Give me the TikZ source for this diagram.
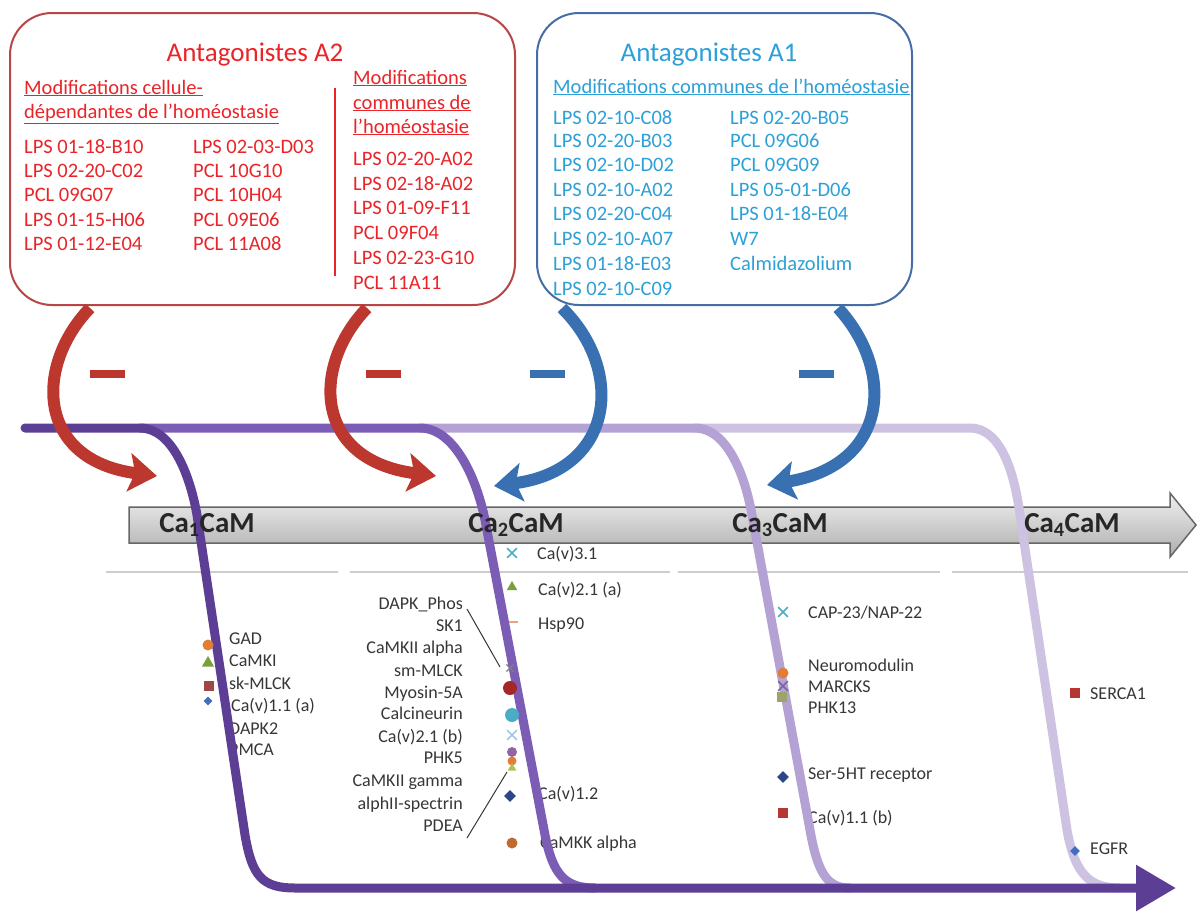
\documentclass[tikz,border=0pt]{standalone}
\usepackage{fontspec}
\setmainfont{Carlito}
\usetikzlibrary{arrows.meta,shapes.geometric,shapes.misc}
\definecolor{a2red}{RGB}{234,36,40}
\definecolor{a2box}{RGB}{185,70,70}
\definecolor{a1blue}{RGB}{45,160,215}
\definecolor{a1box}{RGB}{70,110,165}
\definecolor{arrred}{RGB}{188,56,46}
\definecolor{arrblue}{RGB}{56,112,178}
\definecolor{pA}{RGB}{92,63,148}
\definecolor{pB}{RGB}{124,93,182}
\definecolor{pC}{RGB}{180,162,212}
\definecolor{pD}{RGB}{205,194,226}
\definecolor{lbl}{RGB}{55,55,55}
\definecolor{gline}{RGB}{205,205,205}
\definecolor{mOrange}{RGB}{225,125,55}
\definecolor{mGreen}{RGB}{120,160,60}
\definecolor{mBrown}{RGB}{160,70,70}
\definecolor{mNavy}{RGB}{45,70,135}
\definecolor{mCyan}{RGB}{75,172,198}
\definecolor{mRed}{RGB}{180,55,50}
\definecolor{mDarkRed}{RGB}{165,40,40}
\definecolor{mMauve}{RGB}{150,100,160}
\definecolor{mOlive}{RGB}{155,165,105}
\definecolor{mPurple}{RGB}{128,100,162}
\definecolor{mLtBlue}{RGB}{160,200,230}
\definecolor{mYG}{RGB}{170,195,90}
\definecolor{mBlue}{RGB}{65,110,190}
\definecolor{mPeach}{RGB}{240,160,130}
\tikzset{
  boxframe/.style={draw, line width=2pt, rounded corners=42pt, inner sep=0pt},
  txtA/.style={anchor=base west, inner sep=0pt, text=a2red, font=\fontsize{20.5}{24}\selectfont},
  txtB/.style={anchor=base west, inner sep=0pt, text=a1blue, font=\fontsize{20.5}{24}\selectfont},
  ttl/.style={anchor=base, inner sep=0pt, font=\fontsize{27}{32}\selectfont},
  calbl/.style={anchor=base, inner sep=0pt, font=\fontsize{29}{34}\selectfont\bfseries, text=black!85},
  lblW/.style={anchor=base west, inner sep=0pt, text=lbl, font=\fontsize{18}{22}\selectfont},
  lblE/.style={anchor=base east, inner sep=0pt, text=lbl, font=\fontsize{18}{22}\selectfont},
  mcirc/.style={circle, inner sep=0pt, minimum size=11pt},
  msq/.style={rectangle, inner sep=0pt, minimum size=10pt},
  mtri/.style={regular polygon, regular polygon sides=3, inner sep=0pt, minimum size=14pt},
  mdia/.style={diamond, inner sep=0pt, minimum size=12pt},
  mx/.style={cross out, draw, inner sep=0pt, minimum size=8pt, line width=1.6pt},
  pcurve/.style={line width=9pt, line cap=round, line join=round},
  inhib/.style={line width=12pt, -{Stealth[length=28pt,width=38pt,inset=6pt]}},
  minusbar/.style={rectangle, inner sep=0pt, minimum width=35pt, minimum height=8pt},
  leadline/.style={draw=lbl, line width=1pt},
}
\begin{document}
\begin{tikzpicture}[x=1pt,y=-1pt]
\fill[white] (0,0) rectangle (1200,918);
\useasboundingbox (0,0) rectangle (1200,918);

% ---------- Box A2 ----------
\node[boxframe, draw=a2box, minimum width=505pt, minimum height=292pt] (boxA2) at (262.5,159) {};
\node[ttl, text=a2red] (tA2) at (255,61) {Antagonistes A2};
\node[txtA] (sA2a) at (24,94) {\underline{Modifications cellule-}};
\node[txtA] (sA2b) at (24,118) {\underline{dépendantes de l’homéostasie}};
\node[txtA] (a1) at (24,153) {LPS 01-18-B10};
\node[txtA] (a2) at (24,177) {LPS 02-20-C02};
\node[txtA] (a3) at (24,201) {PCL 09G07};
\node[txtA] (a4) at (24,226) {LPS 01-15-H06};
\node[txtA] (a5) at (24,250) {LPS 01-12-E04};
\node[txtA] (b1) at (193,153) {LPS 02-03-D03};
\node[txtA] (b2) at (193,177) {PCL 10G10};
\node[txtA] (b3) at (193,201) {PCL 10H04};
\node[txtA] (b4) at (193,226) {PCL 09E06};
\node[txtA] (b5) at (193,250) {PCL 11A08};
\coordinate (sepT) at (335,88);
\coordinate (sepB) at (335,276);
\draw[a2red, line width=1.5pt] (sepT) -- (sepB);
\node[txtA] (sA2c) at (353,84) {\underline{Modifications}};
\node[txtA] (sA2d) at (353,109) {\underline{communes de}};
\node[txtA] (sA2e) at (353,133) {\underline{l’homéostasie}};
\node[txtA] (c1) at (353,165) {LPS 02-20-A02};
\node[txtA] (c2) at (353,190) {LPS 02-18-A02};
\node[txtA] (c3) at (353,214) {LPS 01-09-F11};
\node[txtA] (c4) at (353,239) {PCL 09F04};
\node[txtA] (c5) at (353,264) {LPS 02-23-G10};
\node[txtA] (c6) at (353,289) {PCL 11A11};

% ---------- Box A1 ----------
\node[boxframe, draw=a1box, minimum width=375pt, minimum height=292pt] (boxA1) at (724.5,159) {};
\node[ttl, text=a1blue] (tA1) at (709,61) {Antagonistes A1};
\node[txtB] (sA1) at (553,93) {\underline{Modifications communes de l’homéostasie}};
\node[txtB] (d1) at (553,124) {LPS 02-10-C08};
\node[txtB] (d2) at (553,147) {LPS 02-20-B03};
\node[txtB] (d3) at (553,171) {LPS 02-10-D02};
\node[txtB] (d4) at (553,196) {LPS 02-10-A02};
\node[txtB] (d5) at (553,220) {LPS 02-20-C04};
\node[txtB] (d6) at (553,245) {LPS 02-10-A07};
\node[txtB] (d7) at (553,270) {LPS 01-18-E03};
\node[txtB] (d8) at (553,295) {LPS 02-10-C09};
\node[txtB] (e1) at (730,124) {LPS 02-20-B05};
\node[txtB] (e2) at (730,147) {PCL 09G06};
\node[txtB] (e3) at (730,171) {PCL 09G09};
\node[txtB] (e4) at (730,196) {LPS 05-01-D06};
\node[txtB] (e5) at (730,220) {LPS 01-18-E04};
\node[txtB] (e6) at (730,245) {W7};
\node[txtB] (e7) at (730,270) {Calmidazolium};

% ---------- grey state arrow ----------
\draw[draw=black!60, line width=1.5pt, top color=black!6, bottom color=black!32]
  (129,507) -- (1170,507) -- (1170,493) -- (1196,525) -- (1170,557) -- (1170,543) -- (129,543) -- cycle;

% ---------- grey separator lines ----------
\draw[gline, line width=1.5pt] (106,572) -- (338,572);
\draw[gline, line width=1.5pt] (350,572) -- (670,572);
\draw[gline, line width=1.5pt] (678,572) -- (940,572);
\draw[gline, line width=1.5pt] (952,572) -- (1188,572);

% ---------- labels ----------
\node[lblW] (GAD) at (229,644) {GAD};
\node[lblW] (CaMKI) at (229,666) {CaMKI};
\node[lblW] (skMLCK) at (229,689) {sk-MLCK};
\node[lblW] (Cav11a) at (231,711) {Ca(v)1.1 (a)};
\node[lblW] (DAPK2) at (229,734) {DAPK2};
\node[lblW] (PMCA) at (229,755) {PMCA};

\node[lblE] (DAPKP) at (463,609) {DAPK\_Phos};
\node[lblE] (SK1) at (463,631) {SK1};
\node[lblE] (CaMKIIa) at (463,653) {CaMKII alpha};
\node[lblE] (smMLCK) at (463,676) {sm-MLCK};
\node[lblE] (Myo) at (463,698) {Myosin-5A};
\node[lblE] (Calc) at (463,719) {Calcineurin};
\node[lblE] (Cav21b) at (463,742) {Ca(v)2.1 (b)};
\node[lblE] (PHK5) at (463,763) {PHK5};
\node[lblE] (CaMKIIg) at (463,786) {CaMKII gamma};
\node[lblE] (spec) at (463,809) {alphII-spectrin};
\node[lblE] (PDEA) at (463,831) {PDEA};
\coordinate (ld1a) at (467,609);
\coordinate (ld1b) at (500,667);
\coordinate (ld2a) at (507,772);
\coordinate (ld2b) at (467,838);
\draw[leadline] (ld1a) -- (ld1b);
\draw[leadline] (ld2a) -- (ld2b);
\node[lblW] (Cav31) at (537,559) {Ca(v)3.1};
\node[lblW] (Cav21a) at (538,595) {Ca(v)2.1 (a)};
\node[lblW] (Hsp) at (538,629) {Hsp90};
\node[lblW] (Cav12) at (538,799) {Ca(v)1.2};
\node[lblW] (CaMKK) at (540,848) {CaMKK alpha};

\node[lblW] (CAP) at (808,618) {CAP-23/NAP-22};
\node[lblW] (Neuro) at (808,671) {Neuromodulin};
\node[lblW] (MARCKS) at (808,692) {MARCKS};
\node[lblW] (PHK13) at (808,713) {PHK13};
\node[lblW] (Ser) at (808,779) {Ser-5HT receptor};
\node[lblW] (Cav11b) at (808,823) {Ca(v)1.1 (b)};

\node[lblW] (SERCA) at (1090,699) {SERCA1};
\node[lblW] (EGFR) at (1090,854) {EGFR};

% ---------- purple transition curves ----------
\draw[pcurve, pD] (695,428) -- (970,428) .. controls (1000,428) and (1014,470) .. (1020,515) -- (1067,830) .. controls (1075,875) and (1090,888) .. (1120,888);
\draw[pcurve, pC] (420,428) -- (695,428) .. controls (725,428) and (744,470) .. (752,515) -- (810,830) .. controls (818,875) and (828,888) .. (850,888);
\draw[pcurve, pB] (140,428) -- (420,428) .. controls (455,428) and (477,480) .. (485,520) -- (545,835) .. controls (553,875) and (565,888) .. (595,888);
\draw[pcurve, pA, -{Triangle[length=40pt,width=44pt]}] (25,428) -- (140,428) .. controls (172,428) and (190,475) .. (197,515) -- (245,835) .. controls (252,876) and (262,888) .. (295,888) -- (1176,888);

% ---------- markers (on top of curves) ----------
\node[mcirc, fill=mOrange] (r1m1) at (208,645) {};
\node[mtri, fill=mGreen] (r1m2) at (208,663) {};
\node[msq, fill=mBrown] (r1m3) at (209,686) {};
\node[mdia, fill=mBlue, minimum size=9pt] (r1m4) at (208,701) {};

\node[mx, draw=mCyan] (r2m1) at (512,553) {};
\node[mtri, fill=mGreen, minimum size=12pt] (r2m2) at (512,587) {};
\node[rectangle, inner sep=0pt, minimum width=9pt, minimum height=2pt, fill=mPeach] (r2m3) at (513,622) {};
\node[mx, draw=gray, minimum size=6pt, line width=1.2pt] (r2m4) at (510,668) {};
\node[mcirc, fill=mDarkRed, minimum size=14pt] (r2m5) at (510,688) {};
\node[mcirc, fill=mCyan, minimum size=14pt] (r2m6) at (512,715) {};
\node[mx, draw=mLtBlue] (r2m7) at (512,735) {};
\node[mcirc, fill=mMauve, minimum size=10pt] (r2m8) at (512,752) {};
\node[mcirc, fill=mOrange, minimum size=9pt] (r2m9) at (512,761) {};
\node[mtri, fill=mYG, minimum size=10pt] (r2m10) at (512,768) {};
\node[mdia, fill=mNavy] (r2m11) at (510,796) {};
\node[mcirc, fill=mOrange!85!black] (r2m12) at (512,843) {};

\node[mx, draw=mCyan] (r3m1) at (783,612) {};
\node[mcirc, fill=mOrange] (r3m2) at (783,673) {};
\node[mx, draw=mPurple] (r3m3) at (783,686) {};
\node[msq, fill=mOlive] (r3m4) at (782,697) {};
\node[mdia, fill=mNavy] (r3m5) at (783,777) {};
\node[msq, fill=mRed] (r3m6) at (783,813) {};

\node[msq, fill=mRed] (r4m1) at (1075,693) {};
\node[mdia, fill=mBlue, minimum size=10pt] (r4m2) at (1075,851) {};

% ---------- state labels ----------
\node[calbl] (Ca1) at (207,532) {Ca\textsubscript{1}CaM};
\node[calbl] (Ca2) at (516,532) {Ca\textsubscript{2}CaM};
\node[calbl] (Ca3) at (780,532) {Ca\textsubscript{3}CaM};
\node[calbl] (Ca4) at (1072,532) {Ca\textsubscript{4}CaM};

% ---------- inhibition arrows ----------
\coordinate (ir1s) at (90,308);  \coordinate (ir1e) at (157,476);
\coordinate (ir2s) at (367,308); \coordinate (ir2e) at (436,476);
\coordinate (ib1s) at (562,308); \coordinate (ib1e) at (494,486);
\coordinate (ib2s) at (838,308); \coordinate (ib2e) at (767,485);
\draw[inhib, arrred] (ir1s) .. controls (35,365) and (35,460) .. (ir1e);
\draw[inhib, arrred] (ir2s) .. controls (312,365) and (312,460) .. (ir2e);
\draw[inhib, arrblue] (ib1s) .. controls (625,370) and (615,470) .. (ib1e);
\draw[inhib, arrblue] (ib2s) .. controls (895,370) and (890,465) .. (ib2e);
\node[minusbar, fill=arrred] (mn1) at (107,374) {};
\node[minusbar, fill=arrred] (mn2) at (383,374) {};
\node[minusbar, fill=arrblue] (mn3) at (547,374) {};
\node[minusbar, fill=arrblue] (mn4) at (816,374) {};
\end{tikzpicture}
\end{document}
